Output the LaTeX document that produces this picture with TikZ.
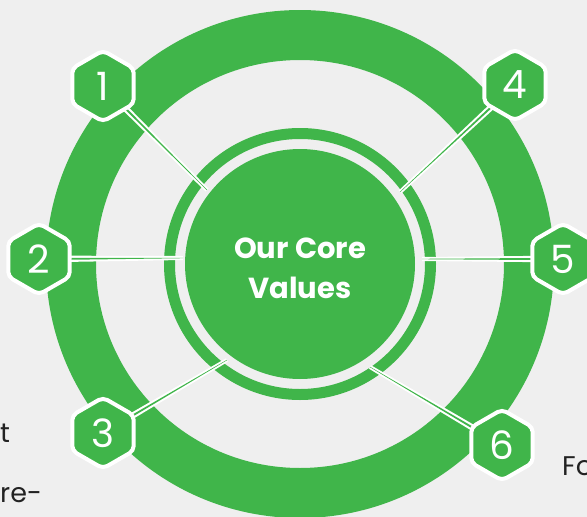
\documentclass[tikz,border=0pt]{standalone}
\usepackage{fontspec}
\usetikzlibrary{calc}
\newfontfamily\pop{Poppins}
\definecolor{cvgreen}{RGB}{64,181,74}
\definecolor{paper}{RGB}{239,239,239}
\definecolor{ink}{RGB}{34,34,34}
\pgfdeclarelayer{back}
\pgfdeclarelayer{mid}
\pgfsetlayers{back,mid,main}
\tikzset{
  hexnum/.style={circle, minimum size=60pt, inner sep=0pt, text=white,
    font=\pop\fontsize{39}{39}\selectfont},
  hexline/.style={fill=cvgreen, draw=white, line width=4pt, rounded corners=5pt},
  sidetext/.style={inner sep=0pt, text=ink, font=\pop\fontsize{27}{27}\selectfont},
}
\newcommand\myhex[4]{%
  \node[hexnum] (#1) at (#2,#3) {};
  \draw[hexline] (#1.center) +(0,-35.5) -- +(30.74,-17.75) -- +(30.74,17.75) -- +(0,35.5) -- +(-30.74,17.75) -- +(-30.74,-17.75) -- cycle;
  \node[hexnum] at (#1.center) {#4};
}
\newcommand\myconn[2]{%
  \fill[white] ($(#1)!3.4pt!90:(#2)$) -- ($(#2)!2pt!-90:(#1)$) -- ($(#2)!2pt!90:(#1)$) -- ($(#1)!3.4pt!-90:(#2)$) -- cycle;
  \fill[cvgreen] ($(#1)!1.2pt!90:(#2)$) -- ($(#2)!0.2pt!-90:(#1)$) -- ($(#2)!0.2pt!90:(#1)$) -- ($(#1)!1.2pt!-90:(#2)$) -- cycle;
}
\begin{document}
\begin{tikzpicture}[x=1pt,y=-1pt]
\useasboundingbox (0,0) rectangle (587,517);
\begin{pgfonlayer}{back}
\fill[paper] (0,0) rectangle (587,517);
\coordinate (ctr) at (300,264);
\draw[cvgreen, line width=50pt] (ctr) circle (229pt);
\draw[cvgreen, line width=11pt] (ctr) circle (130.5pt);
\fill[cvgreen] (ctr) circle (115pt);
\end{pgfonlayer}

\myhex{h1}{103}{86}{1}
\myhex{h2}{39}{259}{2}
\myhex{h3}{103}{433}{3}
\myhex{h4}{515}{85}{4}
\myhex{h5}{563}{259}{5}
\myhex{h6}{502}{445}{6}

\coordinate (e1) at (207,190);
\coordinate (e2) at (183,258);
\coordinate (e3) at (227,360);
\coordinate (e4) at (400,192);
\coordinate (e5) at (422,259);
\coordinate (e6) at (370,367);

\begin{pgfonlayer}{mid}
\myconn{h1}{e1}
\myconn{h2}{e2}
\myconn{h3}{e3}
\myconn{h4}{e4}
\myconn{h5}{e5}
\myconn{h6}{e6}
\end{pgfonlayer}

\node[align=center, text=white, inner sep=0pt, font=\pop\bfseries\fontsize{29}{40}\selectfont] (title) at (300,268) {Our Core\\Values};

\node[sidetext, anchor=base west] (t1) at (0,442) {t};
\node[sidetext, anchor=base west] (t2) at (0,502) {re-};
\node[sidetext, anchor=base west] (t3) at (562,475) {Fo};
\end{tikzpicture}
\end{document}
